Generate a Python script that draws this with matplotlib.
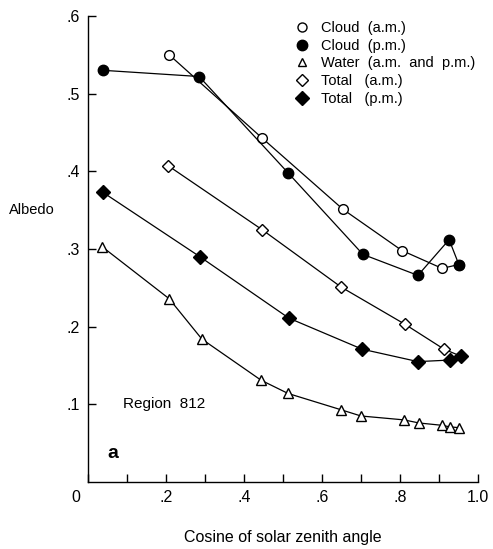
import matplotlib
matplotlib.use("Agg")
import matplotlib.pyplot as plt
from matplotlib.lines import Line2D

plt.rcParams['font.family'] = ['Liberation Sans', 'DejaVu Sans']

# cloud a.m. (last point joins the p.m. end point)
cloud_am_x = [0.208, 0.446, 0.654, 0.805, 0.908, 0.951]
cloud_am_y = [0.550, 0.443, 0.351, 0.298, 0.275, 0.280]
# cloud p.m.
cloud_pm_x = [0.038, 0.285, 0.513, 0.705, 0.846, 0.926, 0.951]
cloud_pm_y = [0.530, 0.522, 0.398, 0.293, 0.266, 0.312, 0.280]
# water (a.m. and p.m.)
water_x = [0.036, 0.208, 0.292, 0.444, 0.513, 0.649, 0.700, 0.810, 0.849, 0.908, 0.928, 0.951]
water_y = [0.303, 0.236, 0.184, 0.131, 0.114, 0.093, 0.085, 0.080, 0.076, 0.073, 0.071, 0.070]
# total a.m.
total_am_x = [0.206, 0.446, 0.649, 0.813, 0.913, 0.956]
total_am_y = [0.407, 0.325, 0.251, 0.203, 0.171, 0.162]
# total p.m.
total_pm_x = [0.038, 0.287, 0.515, 0.703, 0.846, 0.928, 0.956]
total_pm_y = [0.373, 0.290, 0.211, 0.171, 0.155, 0.157, 0.162]

labels = ['Cloud  (a.m.)', 'Cloud  (p.m.)', 'Water  (a.m.  and  p.m.)', 'Total   (a.m.)', 'Total   (p.m.)']

fig = plt.figure(figsize=(4.93, 5.49), dpi=100)
ax = fig.add_axes([0.1785, 0.122, 0.791, 0.849])

lw = 0.9
ax.plot(cloud_am_x, cloud_am_y, '-o', color='black', mfc='white', ms=7, lw=lw, zorder=2)
ax.plot(cloud_pm_x, cloud_pm_y, '-o', color='black', mfc='black', ms=7.5, lw=lw, zorder=3)
ax.plot(water_x, water_y, '-^', color='black', mfc='white', ms=7, lw=lw, zorder=2)
ax.plot(total_am_x, total_am_y, '-D', color='black', mfc='white', ms=6.5, lw=lw, zorder=2)
ax.plot(total_pm_x, total_pm_y, '-D', color='black', mfc='black', ms=7, lw=lw, zorder=3)

ax.set_xlim(0, 1.0)
ax.set_ylim(0, 0.6)
for s in ['top', 'right']:
    ax.spines[s].set_visible(False)
for s in ['left', 'bottom']:
    ax.spines[s].set_linewidth(1.0)

ax.set_xticks([0, 0.2, 0.4, 0.6, 0.8, 1.0])
ax.set_xticklabels(['', '.2', '.4', '.6', '.8', '1.0'])
ax.set_xticks([0.1, 0.3, 0.5, 0.7, 0.9], minor=True)
ax.set_yticks([0.1, 0.2, 0.3, 0.4, 0.5, 0.6])
ax.set_yticklabels(['.1', '.2', '.3', '.4', '.5', '.6'])
ax.tick_params(which='both', direction='in', length=6, width=1, labelsize=11.5)
ax.tick_params(axis='x', pad=6)
ax.tick_params(axis='y', pad=6)
# origin label sits a little left of the corner
ax.annotate('0', xy=(-0.03, 0), xycoords=('data', 'axes fraction'), xytext=(0, -6),
            textcoords='offset points', ha='center', va='top', fontsize=11.5, annotation_clip=False)

ax.set_ylabel('Albedo', rotation=0, fontsize=10.5, va='center', ha='center')
ax.yaxis.set_label_coords(-0.143, 0.584)
ax.set_xlabel('Cosine of solar zenith angle', fontsize=11.5, va='center')
ax.xaxis.set_label_coords(0.5, -0.12)

ax.text(0.09, 0.1, 'Region  812', fontsize=11, va='center')
ax.text(0.05, 0.037, 'a', fontsize=14, fontweight='bold', va='center')

handles = [
    Line2D([], [], ls='none', marker='o', color='black', mfc='white', ms=6.5),
    Line2D([], [], ls='none', marker='o', color='black', mfc='black', ms=7.5),
    Line2D([], [], ls='none', marker='^', color='black', mfc='white', ms=5.5),
    Line2D([], [], ls='none', marker='D', color='black', mfc='white', ms=6.5),
    Line2D([], [], ls='none', marker='D', color='black', mfc='black', ms=7),
]
ax.legend(handles, labels, loc='upper left', bbox_to_anchor=(0.516, 1.005), frameon=False,
          fontsize=10.5, handlelength=0.8, handletextpad=0.9, labelspacing=0.26, borderpad=0)

fig.savefig('out.png', dpi=100)
